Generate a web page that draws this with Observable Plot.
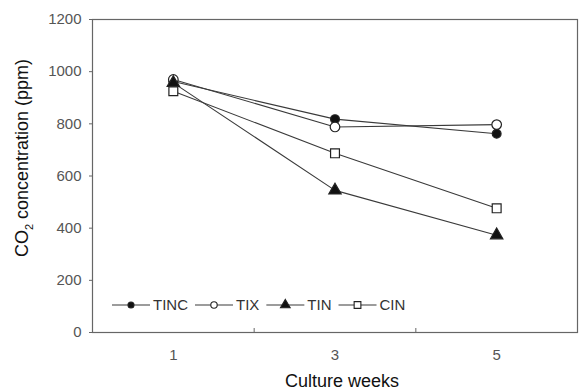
<!DOCTYPE html>
<html><head><meta charset="utf-8">
<script src="https://cdn.jsdelivr.net/npm/d3@7"></script>
<script src="https://cdn.jsdelivr.net/npm/@observablehq/plot@0.6"></script>
<style>
body{margin:0;background:#fff}
#chart{position:relative;width:580px;height:390px}
svg{font-family:"Liberation Sans",Arial,sans-serif}
</style>
</head><body><div id="chart"></div>
<script>
// ---- data ----
const weeks = [1, 3, 5];
const seriesNames = ["TINC", "TIX", "TIN", "CIN"];
const TINC = [962, 818, 762];
const TIX = [970, 788, 797];
const TIN = [957, 545, 373];
const CIN = [925, 687, 476];
const yTicks = [0, 200, 400, 600, 800, 1000, 1200];
const xBoundaryTicks = [2, 4];
const yLabel = "concentration (ppm)";
const xLabel = "Culture weeks";

// ---- styles per series ----
const style = {
  TINC: {symbol: "circle", fill: "#111", r: 4.4, lr: 3},
  TIX: {symbol: "circle", fill: "#fff", r: 4.8, lr: 3.2},
  TIN: {symbol: "triangle", fill: "#111", r: 4.6, lr: 3.6},
  CIN: {symbol: "square", fill: "#fff", r: 5, lr: 3.8}
};
const valuesBySeries = {TINC, TIX, TIN, CIN};
const rows = seriesNames.flatMap(s => weeks.map((w, i) => ({series: s, week: w, value: valuesBySeries[s][i]})));

const lineColor = "#3a3a3a";
const marks = [
  Plot.frame({stroke: "#666", strokeWidth: 1.2}),
  Plot.axisY({ticks: yTicks, tickFormat: d => String(d), tickSize: 3, tickPadding: 8, fontSize: 15, color: "#555", label: null, stroke: "#666"}),
  Plot.axisX({ticks: xBoundaryTicks, tickSize: -4, tickFormat: () => "", label: null, stroke: "#666"}),
  Plot.axisX({ticks: weeks, tickFormat: d => String(d), tickSize: 0, tickPadding: 17, fontSize: 15, color: "#555", label: null})
];
for (const s of seriesNames) {
  const data = rows.filter(d => d.series === s);
  marks.push(Plot.line(data, {x: "week", y: "value", stroke: lineColor, strokeWidth: 1.1}));
}
for (const s of seriesNames) {
  const data = rows.filter(d => d.series === s);
  const st = style[s];
  marks.push(Plot.dot(data, {x: "week", y: "value", symbol: st.symbol, r: st.r, fill: st.fill, stroke: "#222", strokeWidth: 1.2}));
}

const chart = Plot.plot({
  width: 580, height: 390,
  marginLeft: 92, marginRight: 3, marginTop: 19, marginBottom: 58,
  style: {fontFamily: '"Liberation Sans", Arial, sans-serif', background: "#fff"},
  x: {type: "linear", domain: [0, 6]},
  y: {domain: [0, 1200]},
  marks
});
document.getElementById("chart").appendChild(chart);

// ---- axis titles ----
const svg = d3.select(chart);
const yt = svg.append("text")
  .attr("transform", "translate(28,158) rotate(-90)")
  .attr("text-anchor", "middle")
  .attr("font-size", 18)
  .attr("fill", "#111");
yt.append("tspan").text("CO");
yt.append("tspan").attr("font-size", 11).attr("dy", 5).text("2");
yt.append("tspan").attr("dy", -5).text(" " + yLabel);

svg.append("text")
  .attr("x", 342).attr("y", 387)
  .attr("text-anchor", "middle")
  .attr("font-size", 18)
  .attr("fill", "#111")
  .text(xLabel);

// ---- legend ----
const lg = svg.append("g").attr("text-anchor", "start");
let x0 = 112;
const ly = 305;
for (const s of seriesNames) {
  const st = style[s];
  lg.append("line").attr("x1", x0).attr("x2", x0 + 38).attr("y1", ly).attr("y2", ly)
    .attr("stroke", lineColor).attr("stroke-width", 1.1);
  const sym = {circle: d3.symbolCircle, triangle: d3.symbolTriangle, square: d3.symbolSquare}[st.symbol];
  const rr = st.lr;
  lg.append("path").attr("d", d3.symbol(sym, Math.PI * rr * rr)())
    .attr("transform", `translate(${x0 + 19},${ly})`)
    .attr("fill", st.fill).attr("stroke", "#222").attr("stroke-width", 1.1);
  const t = lg.append("text").attr("x", x0 + 41).attr("y", ly).attr("dy", "0.35em")
    .attr("text-anchor", "start")
    .attr("font-size", 15).attr("fill", "#333").text(s);
  x0 = x0 + 41 + t.node().getComputedTextLength() + 7;
}
</script>
</body></html>
